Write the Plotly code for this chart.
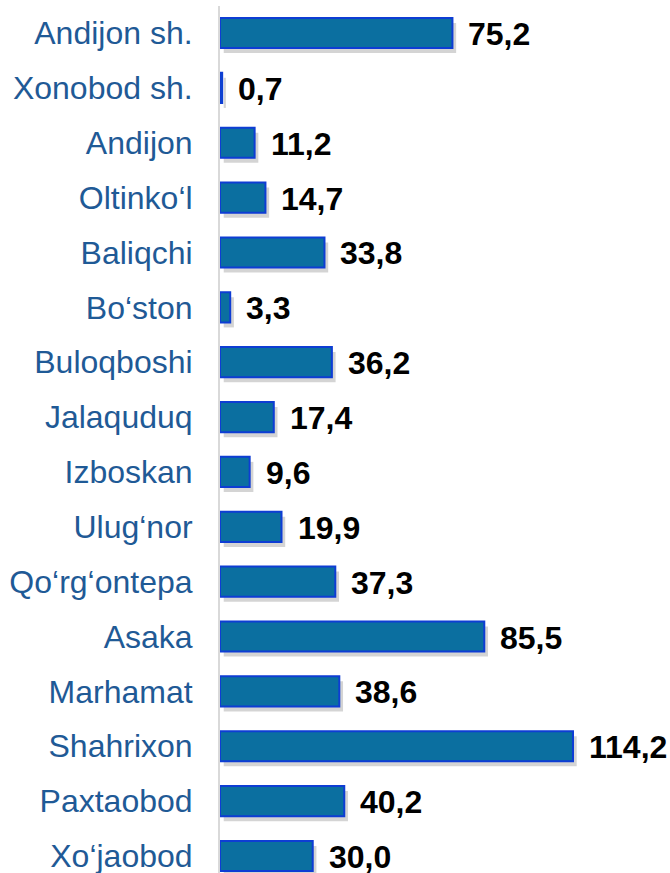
import plotly.graph_objects as go

categories = ["Andijon sh.", "Xonobod sh.", "Andijon", "Oltinko‘l", "Baliqchi", "Bo‘ston",
              "Buloqboshi", "Jalaquduq", "Izboskan", "Ulug‘nor", "Qo‘rg‘ontepa", "Asaka",
              "Marhamat", "Shahrixon", "Paxtaobod", "Xo‘jaobod"]
values = [75.2, 0.7, 11.2, 14.7, 33.8, 3.3, 36.2, 17.4, 9.6, 19.9, 37.3, 85.5, 38.6, 114.2, 40.2, 30.0]
value_labels = ["75,2", "0,7", "11,2", "14,7", "33,8", "3,3", "36,2", "17,4", "9,6", "19,9",
                "37,3", "85,5", "38,6", "114,2", "40,2", "30,0"]

FONT = "Liberation Sans, Arial, sans-serif"
ROW = 54.87
BW = 0.55

fig = go.Figure()

# soft shadow
fig.add_trace(go.Bar(
    y=categories, x=values, orientation="h", base=1.2,
    width=BW, offset=-BW / 2 + 5 / ROW,
    marker=dict(color="rgba(0,0,0,0.17)", line=dict(width=0)),
    hoverinfo="skip", showlegend=False,
))
fig.add_trace(go.Bar(
    y=categories, x=values, orientation="h",
    width=BW, offset=-BW / 2,
    marker=dict(color="#0B6FA0", line=dict(color="#0E3DD4", width=2)),
    showlegend=False,
))

annotations = []
for c, v, t in zip(categories, values, value_labels):
    annotations.append(dict(
        x=v, y=c, xref="x", yref="y", text=t, showarrow=False,
        xanchor="left", yanchor="middle", xshift=14, yshift=-1,
        font=dict(family=FONT, size=32, color="#000000", weight="bold"),
    ))

fig.update_layout(
    width=670, height=873,
    margin=dict(l=220, r=30, t=6, b=0, autoexpand=False),
    paper_bgcolor="white", plot_bgcolor="white",
    barmode="overlay",
    annotations=annotations,
    xaxis=dict(range=[0, 420 / 3.091], visible=False, showgrid=False, zeroline=False,
               automargin=False),
    yaxis=dict(
        categoryorder="array", categoryarray=categories,
        range=[15 + 17 / ROW, -27 / ROW],
        showline=True, linecolor="#D9D9D9", linewidth=2,
        ticks="", showgrid=False, zeroline=False, automargin=False,
        ticklabelstandoff=19,
        tickfont=dict(family=FONT, size=32, color="#1F5A96"),
    ),
)

fig.write_html("out.html", config={"displayModeBar": False},
               post_script="document.body.style.margin='0';document.body.style.overflow='hidden';")
